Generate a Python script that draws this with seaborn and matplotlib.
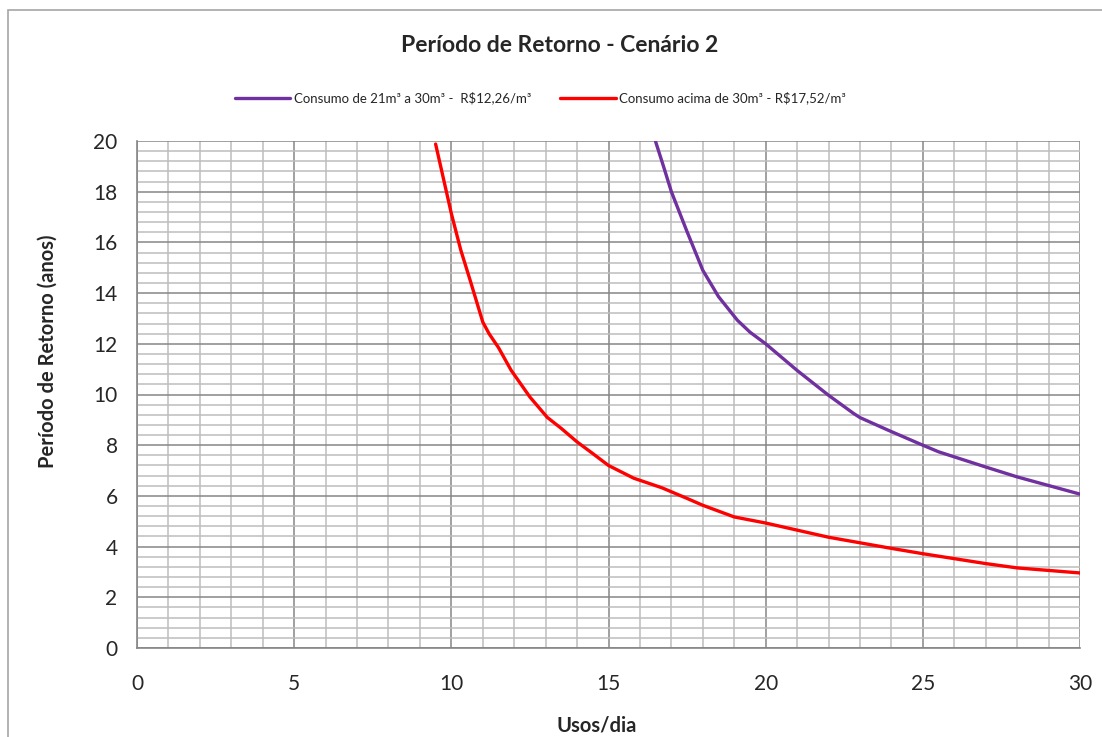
import numpy as np
import pandas as pd
import seaborn as sns
from matplotlib import pyplot as plt
from matplotlib.ticker import MultipleLocator
from matplotlib.patches import Rectangle

# values
usos_roxo = [16.5, 16.75, 17.0, 17.5, 18.0, 18.5, 19.1, 19.5, 20.0, 21.0, 22.0, 22.8, 23.0, 23.9, 25.0, 25.5, 27.0, 28.0, 30.0]
retorno_roxo = [19.97, 19.0, 18.0, 16.42, 14.9, 13.86, 12.93, 12.46, 12.0, 10.95, 9.97, 9.25, 9.09, 8.59, 8.0, 7.74, 7.14, 6.75, 6.07]

usos_verm = [9.5, 10.0, 10.3, 10.6, 11.0, 11.2, 11.5, 11.9, 12.5, 13.05, 13.5, 14.0, 14.5, 15.0, 15.8, 16.7,
             17.5, 18.0, 19.0, 20.0, 22.0, 24.0, 25.0, 27.0, 28.0, 30.0]
retorno_verm = [19.88, 17.14, 15.7, 14.5, 12.86, 12.4, 11.85, 10.96, 9.9, 9.1, 8.66, 8.13, 7.67, 7.2, 6.7, 6.32,
                5.9, 5.63, 5.17, 4.93, 4.37, 3.93, 3.72, 3.33, 3.16, 2.96]

leg_roxo = 'Consumo de 21m³ a 30m³ -  R$12,26/m³'
leg_verm = 'Consumo acima de 30m³ - R$17,52/m³'

sns.set_style('white')
plt.rcParams['font.family'] = ['Lato', 'DejaVu Sans']

W, H = 1102, 737
fig = plt.figure(figsize=(W / 100, H / 100), dpi=100)
ax = fig.add_axes([137 / W, 1 - 648 / H, (1080 - 137) / W, (648 - 141) / H])

df_roxo = pd.DataFrame({'x': usos_roxo, 'y': retorno_roxo})
df_verm = pd.DataFrame({'x': usos_verm, 'y': retorno_verm})
sns.lineplot(data=df_roxo, x='x', y='y', ax=ax, color='#7030A0', lw=2.4, sort=False, label=leg_roxo,
             zorder=5, solid_joinstyle='round')
sns.lineplot(data=df_verm, x='x', y='y', ax=ax, color='#FF0000', lw=2.4, sort=False, label=leg_verm,
             zorder=5, solid_joinstyle='round')

ax.set_xlim(0, 30)
ax.set_ylim(0, 20)
ax.xaxis.set_major_locator(MultipleLocator(5))
ax.xaxis.set_minor_locator(MultipleLocator(1))
ax.yaxis.set_major_locator(MultipleLocator(2))
ax.yaxis.set_minor_locator(MultipleLocator(0.4))
ax.grid(which='major', color='#868686', lw=1.1)
ax.grid(which='minor', color='#bdbdbd', lw=1.1)
ax.set_axisbelow(True)
for s in ['top', 'right']:
    ax.spines[s].set_visible(False)
for s in ['left', 'bottom']:
    ax.spines[s].set_color('#868686')
    ax.spines[s].set_linewidth(1.2)
ax.tick_params(which='major', direction='out', length=6, width=1.1, color='#868686', labelsize=15, pad=8)
ax.tick_params(axis='x', which='major', length=9, pad=10)
ax.tick_params(which='minor', length=0)

ax.set_xlabel('Usos/dia', fontsize=14.5, fontweight='bold', va='center')
ax.set_ylabel('Período de Retorno (anos)', fontsize=14.5, fontweight='bold', va='center')
ax.xaxis.set_label_coords((597 - 137) / 943, (648 - 726) / 507)
ax.yaxis.set_label_coords((48 - 137) / 943, (648 - 351) / 507)

fig.text(560 / W, 1 - 45 / H, 'Período de Retorno - Cenário 2', ha='center', va='center',
         fontsize=16.5, fontweight='bold')

ax.legend(loc='center left', bbox_to_anchor=((235 - 137) / 943, (648 - 98) / 507), ncol=2, frameon=False,
          fontsize=9.5, handlelength=4.2, columnspacing=2.2, handletextpad=0.25, borderpad=0, borderaxespad=0)

fig.patches.append(Rectangle((8 / W, -0.01), 1.2, 1 - 10 / H + 0.01, transform=fig.transFigure,
                             fill=False, ec='#a6a6a6', lw=1.2))

plt.savefig('out.png', dpi=100)
